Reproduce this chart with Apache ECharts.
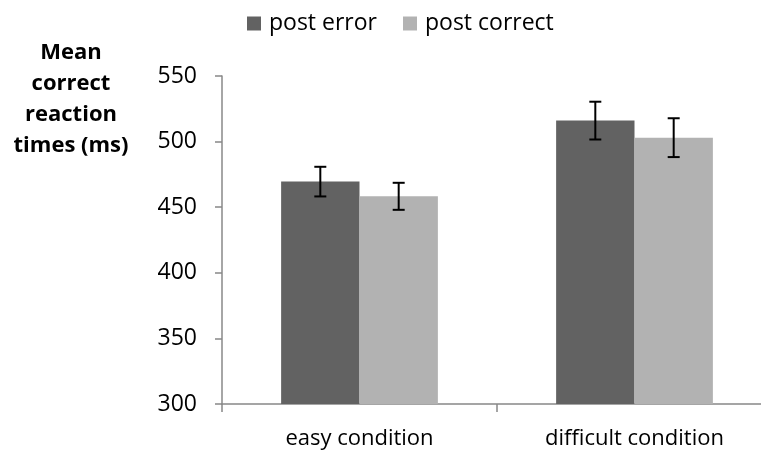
<!DOCTYPE html>
<html>
<head>
<meta charset="utf-8">
<script src="https://cdn.jsdelivr.net/npm/echarts@6/dist/echarts.min.js"></script>
<style>
  html, body { margin: 0; padding: 0; background: #ffffff; }
  #chart { width: 761px; height: 451px; }
</style>
</head>
<body>
<div id="chart"></div>
<script>
// Mean correct reaction times by condition, split by previous-trial outcome
const categories = ['easy condition', 'difficult condition'];
const seriesNames = ['post error', 'post correct'];
const postError = [469.5, 516];
const postCorrect = [458.3, 503];
// half-length of each error bar (ms)
const postErrorErr = [11.3, 14.4];
const postCorrectErr = [10.3, 14.8];
const yTicks = { min: 300, max: 550, interval: 50 };

const darkGray = '#626262';
const lightGray = '#b2b2b2';
const axisGray = '#888888';
const fontFamily = '"Open Sans", sans-serif';
const categoryGap = 0.43;

const chart = echarts.init(document.getElementById('chart'), null, { renderer: 'canvas' });

// Error bars drawn next to their bar: side -1 = left bar, +1 = right bar
function errorBarSeries(means, errs, side) {
  return {
    type: 'custom',
    z: 10,
    silent: true,
    data: means.map((m, i) => [i, m - errs[i], m + errs[i]]),
    encode: { x: 0, y: [1, 2] },
    renderItem: function (params, api) {
      const idx = api.value(0);
      const band = api.size([1, 0])[0];
      const barW = band * (1 - categoryGap) / 2;
      const lo = api.coord([idx, api.value(1)]);
      const hi = api.coord([idx, api.value(2)]);
      const x = lo[0] + side * barW / 2;
      const cap = 6;
      const style = { stroke: '#000000', lineWidth: 2 };
      return {
        type: 'group',
        children: [
          { type: 'line', shape: { x1: x, y1: lo[1], x2: x, y2: hi[1] }, style: style },
          { type: 'line', shape: { x1: x - cap, y1: hi[1], x2: x + cap, y2: hi[1] }, style: style },
          { type: 'line', shape: { x1: x - cap, y1: lo[1], x2: x + cap, y2: lo[1] }, style: style }
        ]
      };
    }
  };
}

chart.setOption({
  backgroundColor: '#ffffff',
  animation: false,
  title: {
    text: 'Mean\ncorrect\nreaction\ntimes (ms)',
    left: 66,
    top: 32,
    textAlign: 'center',
    textStyle: {
      fontFamily: fontFamily,
      fontWeight: 'bold',
      fontSize: 22,
      lineHeight: 31,
      color: '#000000'
    }
  },
  legend: {
    data: seriesNames,
    top: 7,
    left: 242,
    itemWidth: 14,
    itemHeight: 14,
    itemGap: 26,
    icon: 'rect',
    textStyle: { fontFamily: fontFamily, fontSize: 23, color: '#000000', padding: [0, 0, 0, 3] }
  },
  // the plot area runs slightly past the right edge of the canvas
  grid: {
    left: 222, width: 550, top: 76, bottom: 47,
    containLabel: false,
    outerBoundsMode: 'none'
  },
  xAxis: {
    type: 'category',
    data: categories,
    axisLine: { lineStyle: { color: axisGray, width: 1.5 } },
    axisTick: { show: true, length: 8, lineStyle: { color: axisGray, width: 1.5 } },
    axisLabel: { fontFamily: fontFamily, fontSize: 22, color: '#000000', margin: 24 },
    splitLine: { show: false }
  },
  yAxis: {
    type: 'value',
    min: yTicks.min,
    max: yTicks.max,
    interval: yTicks.interval,
    axisLine: { show: true, lineStyle: { color: axisGray, width: 1.5 } },
    axisTick: { show: true, length: 7, lineStyle: { color: axisGray, width: 1.5 } },
    axisLabel: { fontFamily: fontFamily, fontSize: 23, color: '#000000', margin: 25 },
    splitLine: { show: false }
  },
  series: [
    {
      name: seriesNames[0],
      type: 'bar',
      data: postError,
      itemStyle: { color: darkGray },
      barGap: '0%',
      barCategoryGap: (categoryGap * 100) + '%'
    },
    {
      name: seriesNames[1],
      type: 'bar',
      data: postCorrect,
      itemStyle: { color: lightGray },
      barGap: '0%',
      barCategoryGap: (categoryGap * 100) + '%'
    },
    errorBarSeries(postError, postErrorErr, -1),
    errorBarSeries(postCorrect, postCorrectErr, 1)
  ]
});
</script>
</body>
</html>
